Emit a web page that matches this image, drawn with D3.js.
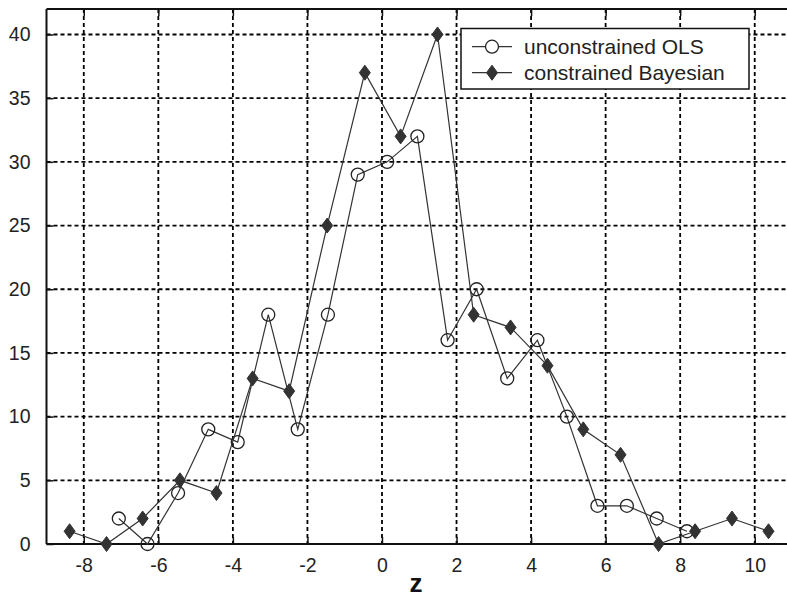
<!DOCTYPE html>
<html>
<head>
<meta charset="utf-8">
<script src="https://cdn.jsdelivr.net/npm/d3@7"></script>
<style>
  html, body { margin: 0; padding: 0; background: #fff; }
  svg { display: block; }
</style>
</head>
<body>
<svg id="chart" width="787" height="597"></svg>
<script>
// Unconstrained OLS estimates (open circles)
const olsZ = [-7.06, -6.29, -5.47, -4.66, -3.87, -3.05, -2.26, -1.45, -0.65, 0.14,
              0.95, 1.76, 2.54, 3.36, 4.17, 4.96, 5.78, 6.57, 7.37, 8.18];
const olsValues = [2, 0, 4, 9, 8, 18, 9, 18, 29, 30, 32, 16, 20, 13, 16, 10, 3, 3, 2, 1];

// Constrained Bayesian estimates (filled diamonds)
const bayesZ = [-8.38, -7.39, -6.42, -5.42, -4.44, -3.47, -2.49, -1.47, -0.46, 0.50,
                1.49, 2.46, 3.45, 4.44, 5.40, 6.40, 7.42, 8.40, 9.39, 10.37];
const bayesValues = [1, 0, 2, 5, 4, 13, 12, 25, 37, 32, 40, 18, 17, 14, 9, 7, 0, 1, 2, 1];

const xTicks = [-8, -6, -4, -2, 0, 2, 4, 6, 8, 10];
const yTicks = [0, 5, 10, 15, 20, 25, 30, 35, 40];
const seriesNames = ["unconstrained OLS", "constrained Bayesian"];
const xTitle = "z";

const svg = d3.select("#chart");
const plotLeft = 46.5, plotRight = 792, plotTop = 9, plotBottom = 544;

const x = d3.scaleLinear().domain([-9, 11]).range([plotLeft, plotRight]);
const y = d3.scaleLinear().domain([0, 42]).range([plotBottom, plotTop]);

const ink = "#111";
const lineInk = "#333";

// Dashed grid
const grid = svg.append("g").attr("stroke", "#000").attr("stroke-width", 1.8)
  .attr("stroke-dasharray", "4,3");
grid.selectAll("line.gx").data(xTicks).join("line")
  .attr("x1", d => x(d)).attr("x2", d => x(d))
  .attr("y1", plotTop).attr("y2", plotBottom);
grid.selectAll("line.gy").data(yTicks.filter(d => d > 0)).join("line")
  .attr("x1", plotLeft).attr("x2", plotRight)
  .attr("y1", d => y(d)).attr("y2", d => y(d));

// Axes with inward ticks
const xAxis = d3.axisBottom(x).tickValues(xTicks).tickSize(-7).tickPadding(14)
  .tickFormat(d3.format("d"));
const gx = svg.append("g").attr("transform", `translate(0,${plotBottom})`).call(xAxis);
const yAxis = d3.axisLeft(y).tickValues(yTicks).tickSize(-7).tickPadding(16)
  .tickFormat(d3.format("d"));
const gy = svg.append("g").attr("transform", `translate(${plotLeft},0)`).call(yAxis);
const xTop = d3.axisTop(x).tickValues(xTicks).tickSize(-7).tickFormat("");
const gt = svg.append("g").attr("transform", `translate(0,${plotTop})`).call(xTop);

[gx, gy, gt].forEach(g => {
  g.selectAll(".domain").attr("stroke", ink).attr("stroke-width", 2);
  g.selectAll(".tick line").attr("stroke", ink).attr("stroke-width", 1.5);
  g.selectAll("text").attr("fill", "#222")
    .style("font-family", "'Liberation Sans', Arial, sans-serif")
    .style("font-size", "19.5px");
});
gx.selectAll(".tick text").text(d => d < 0 ? "-" + Math.abs(d) : d);
gx.select(".domain").attr("d", `M${plotLeft},0H${plotRight}`);
gy.select(".domain").attr("d", `M0,${plotBottom}V${plotTop}`);
gt.select(".domain").attr("d", `M${plotLeft},0H${plotRight}`);

// Axis title
svg.append("text")
  .attr("x", 416).attr("y", 592)
  .attr("text-anchor", "middle")
  .attr("fill", "#111")
  .style("font-family", "'Liberation Sans', Arial, sans-serif")
  .style("font-size", "26px").style("font-weight", "bold")
  .text(xTitle);

const ols = olsZ.map((z, i) => ({ z, v: olsValues[i] }));
const bayes = bayesZ.map((z, i) => ({ z, v: bayesValues[i] }));
const line = d3.line().x(d => x(d.z)).y(d => y(d.v));

const diamond = (cx, cy) =>
  `M${cx},${cy - 7.5}L${cx + 5.5},${cy}L${cx},${cy + 7.5}L${cx - 5.5},${cy}Z`;

// OLS series
svg.append("path").datum(ols).attr("d", line)
  .attr("fill", "none").attr("stroke", lineInk).attr("stroke-width", 1.2);
svg.append("g").selectAll("circle").data(ols).join("circle")
  .attr("cx", d => x(d.z)).attr("cy", d => y(d.v)).attr("r", 6.5)
  .attr("fill", "none").attr("stroke", "#222").attr("stroke-width", 1.3);

// Bayesian series
svg.append("path").datum(bayes).attr("d", line)
  .attr("fill", "none").attr("stroke", lineInk).attr("stroke-width", 1.2);
svg.append("g").selectAll("path").data(bayes).join("path")
  .attr("d", d => diamond(x(d.z), y(d.v)))
  .attr("fill", "#333").attr("stroke", "#333").attr("stroke-width", 1);

// Legend
const lg = svg.append("g");
lg.append("rect").attr("x", 461).attr("y", 28.5).attr("width", 288).attr("height", 60.5)
  .attr("fill", "#fff").attr("stroke", ink).attr("stroke-width", 1.5);
const rows = [46.7, 72.7];
rows.forEach((ry, i) => {
  lg.append("line").attr("x1", 472).attr("x2", 512).attr("y1", ry).attr("y2", ry)
    .attr("stroke", lineInk).attr("stroke-width", 1.2);
  if (i === 0) {
    lg.append("circle").attr("cx", 492).attr("cy", ry).attr("r", 6.5)
      .attr("fill", "#fff").attr("stroke", "#222").attr("stroke-width", 1.3);
  } else {
    lg.append("path").attr("d", diamond(492, ry)).attr("fill", "#333").attr("stroke", "#333");
  }
  lg.append("text").attr("x", 524).attr("y", ry + 7.5)
    .attr("fill", "#222")
    .style("font-family", "'Liberation Sans', Arial, sans-serif")
    .style("font-size", "21px")
    .text(seriesNames[i]);
});
</script>
</body>
</html>
